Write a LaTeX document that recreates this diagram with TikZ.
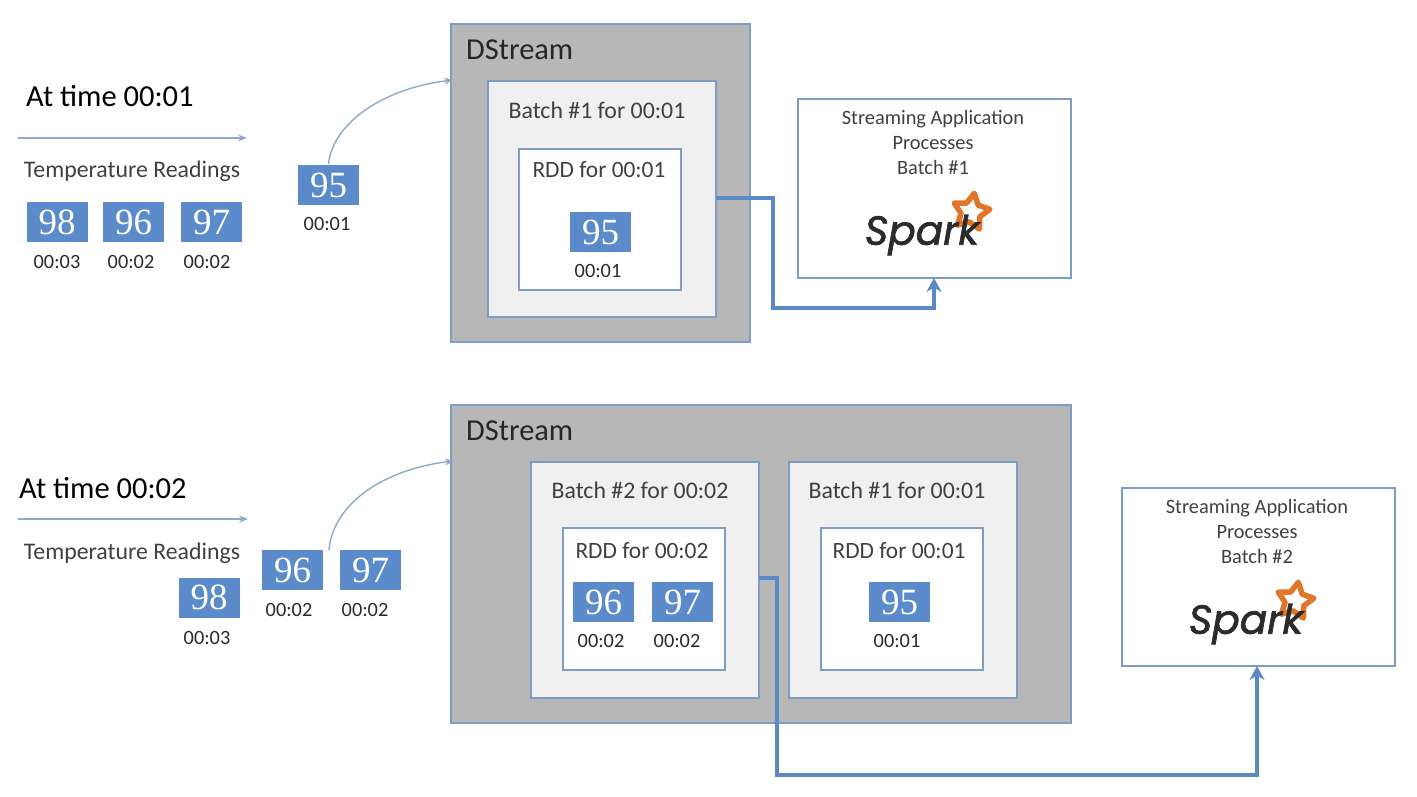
\documentclass[tikz,border=0pt]{standalone}
\usepackage{fontspec}
\setmainfont{Carlito}
\newfontfamily\numfont{Liberation Serif}
\newfontfamily\logofont[FakeBold=1.6]{Poppins}
\usetikzlibrary{arrows.meta,shapes.geometric,calc}
\definecolor{edgeblue}{HTML}{7E9CC4}
\definecolor{fillblue}{HTML}{5B8BCB}
\definecolor{thick}{HTML}{5A8AC6}
\definecolor{thin}{HTML}{8FA9CC}
\definecolor{dgray}{HTML}{B7B7B7}
\definecolor{lgray}{HTML}{F0F0F0}
\definecolor{txt}{HTML}{404040}
\definecolor{sparkorange}{HTML}{E0762A}
\definecolor{sparkblack}{HTML}{2B2B2B}
\tikzset{
  x=1pt,y=-1pt,
  base/.style={draw=edgeblue,line width=1.1pt,inner sep=0pt,outer sep=0pt},
  outerbox/.style={base,fill=dgray},
  batchbox/.style={base,fill=lgray},
  whitebox/.style={base,fill=white},
  num/.style={fill=fillblue,text=white,inner sep=0pt,outer sep=0pt,minimum width=61pt,minimum height=40pt,font=\numfont\fontsize{37}{37}\selectfont},
  stamp/.style={text=sparkblack,inner sep=0pt,font=\fontsize{20.3}{22}\selectfont},
  label/.style={text=txt,inner sep=0pt,font=\fontsize{23.8}{26}\selectfont},
  rddlabel/.style={text=txt,inner sep=0pt,font=\fontsize{23.4}{26}\selectfont},
  dstream/.style={text=black!85,inner sep=0pt,anchor=west,font=\fontsize{30.4}{32}\selectfont},
  heading/.style={text=black,inner sep=0pt,anchor=west,font=\fontsize{30.5}{33}\selectfont},
  apptext/.style={text=txt,inner sep=0pt,align=center,font=\fontsize{20.4}{25}\selectfont},
  thinarrow/.style={draw=thin,line width=1.4pt,-{Stealth[length=9pt,width=7pt]}},
  thickarrow/.style={draw=thick,line width=3.8pt,-{Stealth[length=14pt,width=15pt]}},
  sparktext/.style={text=sparkblack,inner sep=0pt,font=\logofont\itshape\fontsize{40.5}{42}\selectfont},
  sparkstar/.style={star,star points=5,star point ratio=1.9,draw=sparkorange,line width=5.5pt,line join=round,fill=none,minimum size=38pt,inner sep=0pt,rotate=-10},
}
\begin{document}
\begin{tikzpicture}
\useasboundingbox (0,0) rectangle (1417,796);
\fill[white] (0,0) rectangle (1417,796);
% containers, upper
\node[outerbox,anchor=north west,minimum width=299pt,minimum height=318pt] (dsA) at (451,24) {};
\node[batchbox,anchor=north west,minimum width=228pt,minimum height=236pt] (batchA) at (488,81) {};
\node[whitebox,anchor=north west,minimum width=162pt,minimum height=141pt] (rddA) at (519,149) {};
\node[whitebox,anchor=north west,minimum width=273pt,minimum height=179pt] (appA) at (798,99) {};
% containers, lower
\node[outerbox,anchor=north west,minimum width=620pt,minimum height=318pt] (dsB) at (451,405) {};
\node[batchbox,anchor=north west,minimum width=228pt,minimum height=236pt] (batchB) at (531,462) {};
\node[whitebox,anchor=north west,minimum width=162pt,minimum height=142pt] (rddB) at (563,528) {};
\node[batchbox,anchor=north west,minimum width=228pt,minimum height=236pt] (batchC) at (789,462) {};
\node[whitebox,anchor=north west,minimum width=162pt,minimum height=142pt] (rddC) at (821,528) {};
\node[whitebox,anchor=north west,minimum width=273pt,minimum height=178pt] (appB) at (1122,488) {};
% texts
\node[heading] (tA) at (26,96) {At time 00:01};
\node[heading] (tB) at (19,488) {At time 00:02};
\node[label] (trA) at (132,171) {Temperature Readings};
\node[label] (trB) at (132,553) {Temperature Readings};
\node[dstream] (dA) at (466,50) {DStream};
\node[dstream] (dB) at (466,431) {DStream};
\node[label] (bA) at (597,110) {Batch \#1 for 00:01};
\node[rddlabel] (rA) at (599,170) {RDD for 00:01};
\node[label] (bB) at (640,490) {Batch \#2 for 00:02};
\node[rddlabel] (rB) at (642,551) {RDD for 00:02};
\node[label] (bC) at (897,490) {Batch \#1 for 00:01};
\node[rddlabel] (rC) at (899,551) {RDD for 00:01};
\node[apptext] (aA) at (933,142) {Streaming Application\\Processes\\Batch \#1};
\node[apptext] (aB) at (1257,531) {Streaming Application\\Processes\\Batch \#2};
% readings, upper
\node[num] (n1) at (57,222) {98};   \node[stamp] (s1) at (57,262) {00:03};
\node[num] (n2) at (133.5,222) {96}; \node[stamp] (s2) at (131,262) {00:02};
\node[num] (n3) at (211.5,222) {97}; \node[stamp] (s3) at (207,262) {00:02};
\node[num] (n4) at (328.5,185) {95}; \node[stamp] (s4) at (327,224) {00:01};
\node[num] (n5) at (600.5,232) {95}; \node[stamp] (s5) at (598,271) {00:01};
% readings, lower
\node[num] (m1) at (209,597.5) {98}; \node[stamp] (u1) at (207,638) {00:03};
\node[num] (m2) at (292.5,570) {96}; \node[stamp] (u2) at (289,610) {00:02};
\node[num] (m3) at (370.5,570) {97}; \node[stamp] (u3) at (365,610) {00:02};
\node[num] (m4) at (603.5,602) {96}; \node[stamp] (u4) at (601,641) {00:02};
\node[num] (m5) at (682.5,602) {97}; \node[stamp] (u5) at (677,641) {00:02};
\node[num] (m6) at (899.5,602) {95}; \node[stamp] (u6) at (897,641) {00:01};
% spark logos
\node[sparkstar] (starA) at (971,212) {};
\node[sparktext] (spA) at (922,235) {Spark};
\node[sparkstar] (starB) at (1295,601) {};
\node[sparktext] (spB) at (1246,624) {Spark};
% connectors
\coordinate (lineAs) at (18,138); \coordinate (lineAe) at (247,138);
\coordinate (lineBs) at (18,519); \coordinate (lineBe) at (248,519);
\draw[thinarrow] (lineAs) -- (lineAe);
\draw[thinarrow] (lineBs) -- (lineBe);
\coordinate (inA) at (453,80);
\coordinate (inB) at (454,461);
\draw[thinarrow] (n4.north) ++(0,-1) .. controls (333,122) and (385,88) .. (inA);
\coordinate (fromB) at (329,550);
\draw[thinarrow] (fromB) .. controls (333,503) and (385,469) .. (inB);
\draw[thickarrow] (716,198) -- (773,198) -- (773,308) -- (934,308) -- (934,278);
\draw[thickarrow] (759,578) -- (777,578) -- (777,775) -- (1257,775) -- (1257,666);
\end{tikzpicture}
\end{document}
